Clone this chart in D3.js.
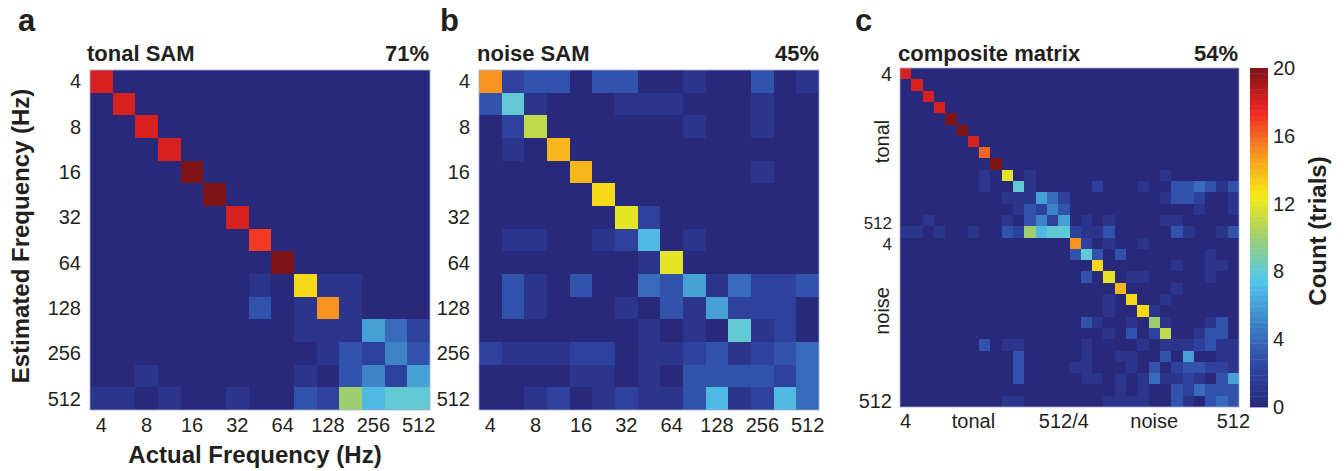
<!DOCTYPE html>
<html>
<head>
<meta charset="utf-8">
<script src="https://cdn.jsdelivr.net/npm/d3@7"></script>
<style>
  body { margin: 0; background: #fff; }
  svg text { font-family: "Liberation Sans", Arial, Helvetica, sans-serif; fill: #231f20; }
</style>
</head>
<body>
<svg id="chart" width="1344" height="471"></svg>
<script>
// half-octave SAM rates, 4 to 512 Hz
const freqs = ["4", "5.7", "8", "11", "16", "23", "32", "45", "64", "91", "128", "181", "256", "362", "512"];
const freqTicks = ["4", "8", "16", "32", "64", "128", "256", "512"];
const colorbarTicks = [0, 4, 8, 12, 16, 20];

// rows = estimated frequency (top = 4 Hz), columns = actual frequency
const tonalCounts = [
    [18,0,0,0,0,0,0,0,0,0,0,0,0,0,0],
    [0,18,0,0,0,0,0,0,0,0,0,0,0,0,0],
    [0,0,18,0,0,0,0,0,0,0,0,0,0,0,0],
    [0,0,0,18,0,0,0,0,0,0,0,0,0,0,0],
    [0,0,0,0,20,0,0,0,0,0,0,0,0,0,0],
    [0,0,0,0,0,20,0,0,0,0,0,0,0,0,0],
    [0,0,0,0,0,0,18,0,0,0,0,0,0,0,0],
    [0,0,0,0,0,0,0,17,0,0,0,0,0,0,0],
    [0,0,0,0,0,0,0,0,20,0,0,0,0,0,0],
    [0,0,0,0,0,0,0,1,0,13,1,1,0,0,0],
    [0,0,0,0,0,0,0,3,0,1,15,1,0,0,0],
    [0,0,0,0,0,0,0,0,0,1,1,1,6,4,2],
    [0,0,0,0,0,0,0,0,0,0,1,3,2,5,3],
    [0,0,1,0,0,0,0,0,0,1,0,3,5,2,6],
    [1,1,0,1,0,0,1,0,0,3,2,10,7,8,8]
];

const noiseCounts = [
    [15,2,3,3,0,3,3,0,0,1,0,0,3,0,1],
    [3,8,1,0,0,0,1,1,1,0,0,0,1,0,0],
    [0,2,11,0,0,0,0,0,0,1,0,0,1,0,0],
    [0,1,0,14,0,0,0,0,0,0,0,0,0,0,0],
    [0,0,0,0,14,0,0,0,0,0,0,0,1,0,0],
    [0,0,0,0,0,13,0,0,0,0,0,0,0,0,0],
    [0,0,0,0,0,0,12,2,0,0,0,0,0,0,0],
    [0,1,1,0,0,1,2,7,0,1,0,0,0,0,0],
    [0,0,0,0,0,0,0,1,12,0,0,0,0,0,0],
    [0,3,1,0,3,0,0,4,3,6,1,4,2,2,3],
    [0,3,1,0,0,0,1,0,3,1,6,2,2,2,0],
    [0,0,0,0,0,0,0,1,0,1,0,8,1,2,0],
    [2,1,1,1,2,2,0,1,1,2,3,1,2,3,4],
    [0,0,0,0,1,1,0,1,0,3,3,3,3,2,4],
    [0,0,1,2,0,1,2,1,1,3,7,1,2,7,4]
];

// tonal 4..512 then noise 4..512 on both axes
const compositeCounts = [
    [18,0,0,0,0,0,0,0,0,0, 0,0,0,0,0,0,0,0,0,0, 0,0,0,0,0,0,0,0,0,0],
    [0,18,0,0,0,0,0,0,0,0, 0,0,0,0,0,0,0,0,0,0, 0,0,0,0,0,0,0,0,0,0],
    [0,0,18,0,0,0,0,0,0,0, 0,0,0,0,0,0,0,0,0,0, 0,0,0,0,0,0,0,0,0,0],
    [0,0,0,18,0,0,0,0,0,0, 0,0,0,0,0,0,0,0,0,0, 0,0,0,0,0,0,0,0,0,0],
    [0,0,0,0,20,0,0,0,0,0, 0,0,0,0,0,0,0,0,0,0, 0,0,0,0,0,0,0,0,0,0],
    [0,0,0,0,0,20,0,0,0,0, 0,0,0,0,0,0,0,0,0,0, 0,0,0,0,0,0,0,0,0,0],
    [0,0,0,0,0,0,18,0,0,0, 0,0,0,0,0,0,0,0,0,0, 0,0,0,0,0,0,0,0,0,0],
    [0,0,0,0,0,0,0,16,0,0, 0,0,0,0,0,0,0,0,0,0, 0,0,0,0,0,0,0,0,0,0],
    [0,0,0,0,0,0,0,0,20,0, 0,0,0,0,0,0,0,0,0,0, 0,0,0,0,0,0,0,0,0,0],
    [0,0,0,0,0,0,0,1,0,12, 0,1,0,0,0,0,0,0,0,0, 0,0,0,1,0,0,0,0,0,0],
    [0,0,0,0,0,0,0,1,0,0, 8,1,0,0,0,0,0,2,0,0, 0,1,0,0,3,3,4,3,1,3],
    [0,0,0,0,0,0,0,0,0,1, 1,1,6,4,2,0,0,0,0,0, 0,0,0,1,3,3,2,0,0,1],
    [0,0,0,0,0,0,0,0,0,0, 1,3,2,5,3,0,0,0,0,0, 0,0,0,0,0,0,1,0,0,1],
    [0,0,1,0,0,0,0,0,0,1, 0,3,5,2,6,0,1,0,1,0, 0,0,0,1,1,0,0,0,0,0],
    [1,1,0,1,0,0,1,0,0,3, 2,10,7,8,8,2,1,1,3,0, 0,0,0,0,3,1,0,0,1,3],
    [0,0,0,0,0,0,0,0,0,0, 0,0,0,0,0,15,2,0,1,0, 0,1,0,0,0,0,0,0,0,0],
    [0,0,0,0,0,0,0,0,0,0, 0,0,0,0,0,3,8,3,0,3, 0,0,0,0,0,0,0,1,0,0],
    [0,0,0,0,0,0,0,0,0,0, 0,0,0,0,0,0,0,13,0,0, 0,0,0,0,1,0,0,1,1,0],
    [0,0,0,0,0,0,0,0,0,0, 0,0,0,0,0,0,3,0,12,0, 1,1,0,0,0,0,0,1,0,0],
    [0,0,0,0,0,0,0,0,0,0, 0,0,0,0,0,0,0,0,0,14, 0,0,0,0,1,0,0,0,0,0],
    [0,0,0,0,0,0,0,0,0,0, 0,0,0,0,0,0,0,0,1,0, 13,0,0,1,0,0,0,0,0,0],
    [0,0,0,0,0,0,0,0,0,0, 0,0,0,0,0,0,0,0,1,0, 0,13,1,0,0,0,0,0,0,0],
    [0,0,0,0,0,0,0,0,0,0, 0,0,0,0,0,0,3,1,0,0, 1,0,10,1,0,0,0,1,3,0],
    [0,0,0,0,0,0,0,0,0,0, 0,0,0,0,0,0,0,0,1,0, 3,0,2,11,0,0,1,3,3,0],
    [0,0,0,0,0,0,0,3,0,1, 1,0,0,0,0,0,1,0,0,0, 0,1,0,1,1,1,2,3,1,1],
    [0,0,0,0,0,0,0,0,0,0, 3,0,0,0,0,0,1,0,0,1, 1,0,0,3,0,6,0,0,1,1],
    [0,0,0,0,0,0,0,0,0,0, 3,0,0,0,0,1,1,0,0,0, 1,0,3,0,2,3,3,2,2,1],
    [0,0,0,0,0,0,0,0,0,0, 3,0,0,0,0,0,1,1,0,1, 0,1,4,1,1,2,1,0,3,6],
    [0,0,0,0,0,0,0,0,0,0, 0,0,0,0,0,0,0,0,0,1, 0,1,0,0,3,2,4,3,3,3],
    [0,0,0,0,0,0,0,0,0,1, 1,0,0,0,0,0,0,0,1,1, 1,1,0,0,3,1,0,3,4,3]
];

const compositeCats = freqs.map(f => "tonal " + f).concat(freqs.map(f => "noise " + f));

// jet colormap as it comes out in print (muted)
const color = d3.scaleLinear()
    .domain([0, 2.5, 5, 7.5, 10, 12.5, 15, 17.5, 20])
    .range(["#28297a", "#2f47a5", "#3e83c6", "#52c8ec", "#9dcf70", "#f6eb14", "#f7931e", "#ee2424", "#7d1315"])
    .interpolate(d3.interpolateRgb)
    .clamp(true);

const TICK = "20px";
const svg = d3.select("#chart");

function drawMatrix(counts, cats, x0, y0, size) {
    const x = d3.scaleBand().domain(cats).range([x0, x0 + size]);
    const y = d3.scaleBand().domain(cats).range([y0, y0 + size]);
    const cells = [];
    counts.forEach(function(row, i) {
        row.forEach(function(v, j) {
            cells.push({est: cats[i], act: cats[j], v: v});
        });
    });
    const g = svg.append("g");
    g.append("rect")
        .attr("x", x0).attr("y", y0)
        .attr("width", size).attr("height", size)
        .attr("fill", color(0));
    g.selectAll("rect.cell")
        .data(cells.filter(d => d.v > 0))
        .enter().append("rect")
        .attr("class", "cell")
        .attr("x", d => x(d.act))
        .attr("y", d => y(d.est))
        .attr("width", x.bandwidth())
        .attr("height", y.bandwidth())
        .attr("shape-rendering", "crispEdges")
        .attr("fill", d => color(d.v));
    g.append("rect")
        .attr("x", x0).attr("y", y0)
        .attr("width", size).attr("height", size)
        .attr("fill", "none")
        .attr("stroke", "#a9acd4")
        .attr("stroke-width", 0.8);
    return {x: x, y: y};
}

function title(label, pct, x0, x1) {
    svg.append("text").text(label)
        .attr("x", x0).attr("y", 61)
        .style("font-size", "22px").style("font-weight", "bold");
    svg.append("text").text(pct)
        .attr("x", x1).attr("y", 61)
        .attr("text-anchor", "end")
        .style("font-size", "22px").style("font-weight", "bold");
}

function panelLetter(letter, x) {
    svg.append("text").text(letter)
        .attr("x", x).attr("y", 31)
        .style("font-size", "31px").style("font-weight", "bold");
}

function freqAxes(s, x0, y0, size) {
    svg.selectAll(null).data(freqTicks).enter().append("text")
        .text(d => d)
        .attr("x", x0 - 9)
        .attr("y", d => s.y(d) + s.y.bandwidth() / 2)
        .attr("dy", "0.35em")
        .attr("text-anchor", "end")
        .style("font-size", TICK);
    svg.selectAll(null).data(freqTicks).enter().append("text")
        .text(d => d)
        .attr("x", d => s.x(d) + s.x.bandwidth() / 2)
        .attr("y", y0 + size + 22)
        .attr("text-anchor", "middle")
        .style("font-size", TICK);
}

// a: tonal
panelLetter("a", 18);
title("tonal SAM", "71%", 87, 429);
const sa = drawMatrix(tonalCounts, freqs, 90, 70, 340);
freqAxes(sa, 90, 70, 340);

// b: noise
panelLetter("b", 440);
title("noise SAM", "45%", 477, 819);
const sb = drawMatrix(noiseCounts, freqs, 479, 70, 340);
freqAxes(sb, 479, 70, 340);

svg.append("text").text("Estimated Frequency (Hz)")
    .attr("transform", "translate(29,236) rotate(-90)")
    .attr("text-anchor", "middle")
    .style("font-size", "24px").style("font-weight", "bold");
svg.append("text").text("Actual Frequency (Hz)")
    .attr("x", 255).attr("y", 463)
    .attr("text-anchor", "middle")
    .style("font-size", "24px").style("font-weight", "bold");

// c: composite
panelLetter("c", 855);
title("composite matrix", "54%", 898, 1238);
const cx0 = 900, cy0 = 68, csize = 339;
const sc = drawMatrix(compositeCounts, compositeCats, cx0, cy0, csize);
const cbw = sc.x.bandwidth();

// 512 / 4 at the tonal-noise border sit tight, a bit smaller
const cYLabels = [
    {t: "4", y: sc.y("tonal 4") + cbw / 2 + 7, size: TICK},
    {t: "512", y: sc.y("tonal 512") + cbw - 9, size: "17px"},
    {t: "4", y: sc.y("noise 4") + 12, size: "17px"},
    {t: "512", y: sc.y("noise 512") + cbw / 2 + 7, size: TICK}
];
svg.selectAll(null).data(cYLabels).enter().append("text")
    .text(d => d.t)
    .attr("x", cx0 - 8)
    .attr("y", d => d.y)
    .attr("text-anchor", "end")
    .style("font-size", d => d.size);
svg.append("text").text("tonal")
    .attr("transform", "translate(889," + (sc.y("tonal 32") + cbw / 2) + ") rotate(-90)")
    .attr("text-anchor", "middle")
    .style("font-size", TICK);
svg.append("text").text("noise")
    .attr("transform", "translate(889," + (sc.y("noise 32") + cbw / 2) + ") rotate(-90)")
    .attr("text-anchor", "middle")
    .style("font-size", TICK);

const cXLabels = [
    {t: "4", x: sc.x("tonal 4") + cbw / 2},
    {t: "tonal", x: sc.x("tonal 32") + cbw / 2},
    {t: "512/4", x: sc.x("tonal 512") + cbw / 2},
    {t: "noise", x: sc.x("noise 45") + cbw / 2},
    {t: "512", x: sc.x("noise 512") + cbw / 2}
];
svg.selectAll(null).data(cXLabels).enter().append("text")
    .text(d => d.t)
    .attr("x", d => d.x)
    .attr("y", cy0 + csize + 21)
    .attr("text-anchor", "middle")
    .style("font-size", TICK);

// colorbar, 64 steps like a jet(64) map
const cb = d3.scaleLinear().domain([0, 20]).range([cy0 + csize, cy0]);
const steps = d3.range(64).map(i => (i + 0.5) * 20 / 64);
svg.append("g").selectAll("rect")
    .data(steps)
    .enter().append("rect")
    .attr("x", 1250)
    .attr("y", d => cb(d + 10 / 64))
    .attr("width", 18)
    .attr("height", cb(0) - cb(20 / 64) + 0.4)
    .attr("fill", d => color(d));
svg.selectAll(null).data(colorbarTicks).enter().append("text")
    .text(d => d)
    .attr("x", 1273)
    .attr("y", d => cb(d))
    .attr("dy", "0.35em")
    .style("font-size", TICK);
svg.append("text").text("Count (trials)")
    .attr("transform", "translate(1326,231) rotate(-90)")
    .attr("text-anchor", "middle")
    .style("font-size", "24px").style("font-weight", "bold");
</script>
</body>
</html>
